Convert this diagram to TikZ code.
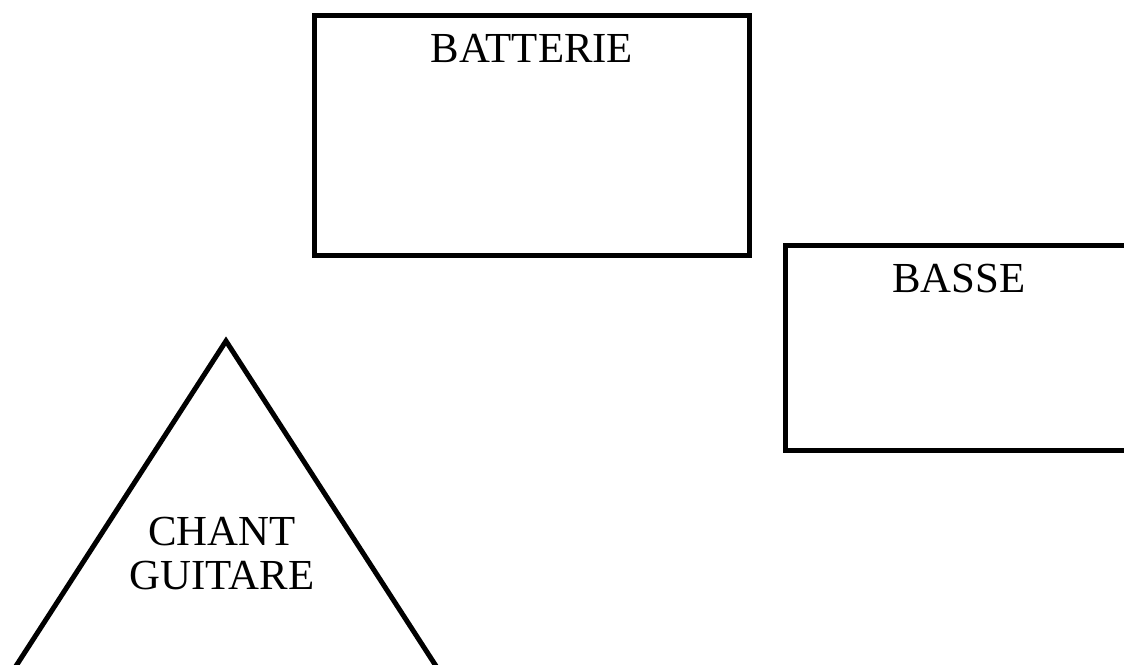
\documentclass[tikz,border=0pt]{standalone}
\usepackage{fontspec}
\setmainfont{Liberation Serif}
\begin{document}
\begin{tikzpicture}[x=0.5pt,y=0.5pt,
    stage/.style={line width=2.5pt, line join=miter},
    lbl/.style={inner sep=0pt, font=\fontsize{21.4}{22}\selectfont}]
            \useasboundingbox (0,0) rectangle (1124,664);
            \clip (0,0) rectangle (1124,664);
            \coordinate (top) at (226,323);
            \coordinate (left) at (-15,-50);
            \coordinate (right) at (467,-50);
            \draw[stage] (314.5,408.5) rectangle (749.5,648.5);
            \node[lbl, anchor=base] (batterie) at (532,601) {BATTERIE};
            \draw[stage] (785.5,213.5) rectangle (1132.5,418.5);
            \node[lbl, anchor=base] (basse) at (959,371) {BASSE};
            \draw[stage] (top) -- (right) -- (left) -- cycle;
            \node[lbl, align=center] (chant) at (222,110) {CHANT\\GUITARE};
        \end{tikzpicture}
\end{document}
